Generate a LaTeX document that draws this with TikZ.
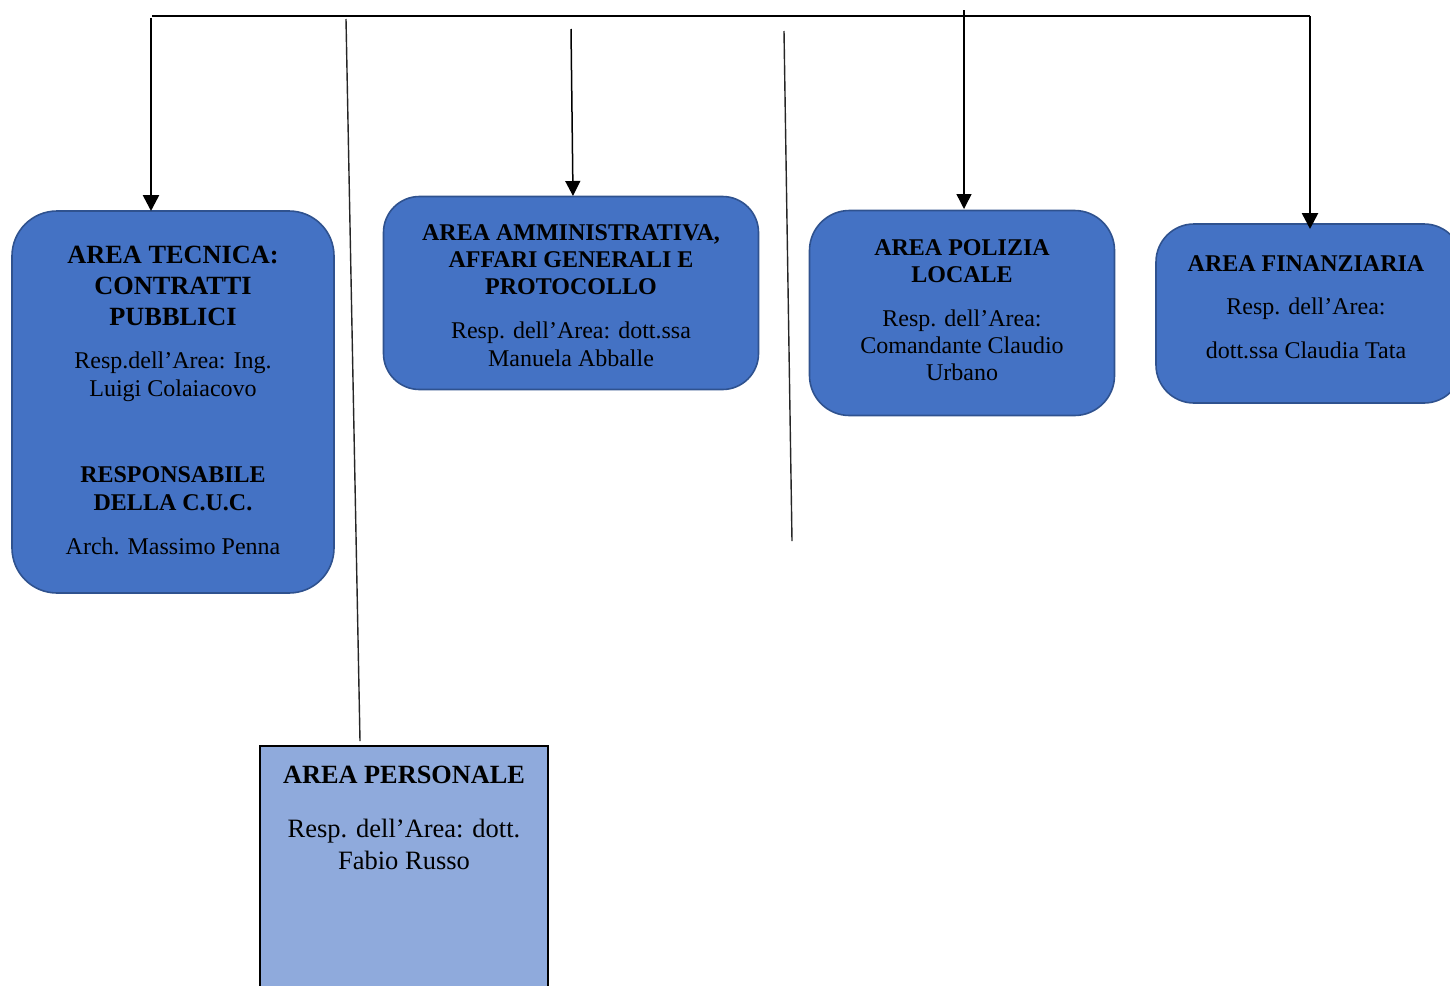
\documentclass[tikz,border=0pt]{standalone}
\usepackage{fontspec}
\setmainfont{Liberation Serif}
\usetikzlibrary{arrows.meta}
\definecolor{boxfill}{HTML}{4472C4}
\definecolor{boxline}{HTML}{2F528F}
\definecolor{lightfill}{HTML}{8FAADC}
\begin{document}
\begin{tikzpicture}[x=1pt,y=-1pt,
  areabox/.style={draw=boxline, fill=boxfill, line width=1.6pt, inner sep=0pt, outer sep=0pt},
  plainbox/.style={draw=black, fill=lightfill, line width=1.8pt, inner sep=0pt, outer sep=0pt},
  ttl/.style={anchor=base, inner sep=0pt, font=\fontsize{24}{28}\selectfont\bfseries},
  bigttl/.style={anchor=base, inner sep=0pt, font=\fontsize{26.3}{30}\selectfont\bfseries},
  txt/.style={anchor=base, inner sep=0pt, font=\fontsize{24}{28}\selectfont},
  bigtxt/.style={anchor=base, inner sep=0pt, font=\fontsize{26.5}{30}\selectfont},
  thickarr/.style={line width=2.6pt, -{Triangle[width=16pt,length=16pt]}},
  thinarr/.style={line width=1.5pt, -{Triangle[width=15pt,length=15pt]}},
  slant/.style={line width=1.4pt, draw=black!85}
]
\useasboundingbox (0,0) rectangle (1450,985);

% boxes
\node[areabox, rounded corners=45pt, minimum width=322pt, minimum height=382pt] (tec) at (173,402) {};
\node[areabox, rounded corners=36pt, minimum width=375pt, minimum height=193pt] (amm) at (571,293) {};
\node[areabox, rounded corners=40pt, minimum width=305pt, minimum height=205pt] (pol) at (962,313) {};
\node[areabox, rounded corners=38pt, minimum width=306pt, minimum height=179pt] (fin) at (1309,313.5) {};
\node[plainbox, minimum width=288pt, minimum height=260pt] (per) at (404,876) {};

% connectors
\coordinate (topL) at (152,16);
\coordinate (topR) at (1310,16);
\draw[line width=1.5pt] (topL) -- (topR);
\coordinate (s1) at (151,18);
\draw[thickarr] (s1) -- (s1 |- tec.north);
\draw[thickarr] (topR) -- (1310,229);
\coordinate (s3) at (571,29);
\coordinate (e3) at (573,196);
\draw[thinarr] (s3) -- (e3);
\coordinate (s4) at (964,10);
\draw[thinarr] (s4) -- (964,209);
\coordinate (s5) at (346,19);
\coordinate (e5) at (360,741);
\draw[slant] (s5) -- (e5);
\coordinate (s6) at (784,31);
\coordinate (e6) at (792,541);
\draw[slant] (s6) -- (e6);

% AREA TECNICA
\node[bigttl] (t1) at (173,263) {AREA TECNICA:};
\node[bigttl] (t2) at (173,294) {CONTRATTI};
\node[bigttl] (t3) at (173,325) {PUBBLICI};
\node[txt] (t4) at (173,368) {Resp.dell’Area: Ing.};
\node[txt] (t5) at (173,396) {Luigi Colaiacovo};
\node[ttl] (t6) at (173,482) {RESPONSABILE};
\node[ttl] (t7) at (173,510) {DELLA C.U.C.};
\node[txt] (t8) at (173,554) {Arch. Massimo Penna};

% AREA AMMINISTRATIVA
\node[ttl] (a1) at (571,240) {AREA AMMINISTRATIVA,};
\node[ttl] (a2) at (571,267) {AFFARI GENERALI E};
\node[ttl] (a3) at (571,294) {PROTOCOLLO};
\node[txt] (a4) at (571,338) {Resp. dell’Area: dott.ssa};
\node[txt] (a5) at (571,366) {Manuela Abballe};

% AREA POLIZIA
\node[ttl] (p1) at (962,255) {AREA POLIZIA};
\node[ttl] (p2) at (962,282) {LOCALE};
\node[txt] (p3) at (962,326) {Resp. dell’Area:};
\node[txt] (p4) at (962,353) {Comandante Claudio};
\node[txt] (p5) at (962,380) {Urbano};

% AREA FINANZIARIA
\node[ttl] (f1) at (1306,271) {AREA FINANZIARIA};
\node[txt] (f2) at (1306,314) {Resp. dell’Area:};
\node[txt] (f3) at (1306,358) {dott.ssa Claudia Tata};

% AREA PERSONALE
\node[bigttl] (r1) at (404,783) {AREA PERSONALE};
\node[bigtxt] (r2) at (404,837) {Resp. dell’Area: dott.};
\node[bigtxt] (r3) at (404,869) {Fabio Russo};
\end{tikzpicture}
\end{document}
